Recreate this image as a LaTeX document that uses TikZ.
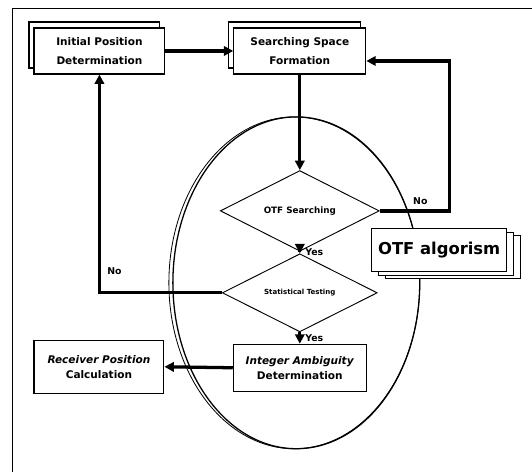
\documentclass[tikz,border=0pt]{standalone}
\usepackage{fontspec}
\setsansfont{DejaVu Sans}
\usetikzlibrary{arrows.meta,shapes.geometric,shadows}
\tikzstyle{box}=[draw,fill=white,line width=1pt,align=center,inner sep=0pt,font=\sffamily\bfseries\fontsize{9}{16}\selectfont]
\tikzstyle{dec}=[diamond,draw,fill=white,line width=0.8pt,inner sep=0pt,font=\sffamily\bfseries]
\tikzstyle{flow}=[line width=2.8pt,-{Triangle[length=8pt,width=8pt]}]
\tikzstyle{lab}=[font=\sffamily\bfseries\fontsize{8}{9}\selectfont]

\begin{document}
\begin{tikzpicture}[x=0.03cm,y=-0.03cm]
\fill[white] (0,0) rectangle (532,472);
\draw[line width=0.6pt] (12,472) -- (12,8) -- (532,8);
% the OTF ring
\draw[line width=0.7pt] (294.5,283) ellipse [x radius=3.765cm, y radius=4.98cm];
\draw[line width=1.1pt] (296.5,283) ellipse [x radius=3.705cm, y radius=4.98cm];
\node[box,minimum width=3.93cm,minimum height=1.38cm,copy shadow={shadow xshift=-0.15cm,shadow yshift=0.18cm}] (I) at (99.5,51) {Initial Position\\Determination};
\node[box,minimum width=3.96cm,minimum height=1.38cm,copy shadow={shadow xshift=-0.15cm,shadow yshift=0.18cm}] (S) at (300,51) {Searching Space\\Formation};
\node[dec,minimum width=4.77cm,minimum height=1.98cm,font=\sffamily\bfseries\fontsize{7.5}{9}\selectfont] (O) at (300,211) {OTF Searching};
\node[dec,minimum width=4.65cm,minimum height=1.98cm,font=\sffamily\bfseries\fontsize{6}{7}\selectfont] (T) at (300,293) {Statistical Testing};
\node[box,minimum width=3.99cm,minimum height=1.41cm,font=\sffamily\bfseries\fontsize{9}{13}\selectfont] (A) at (300,368) {\textit{Integer Ambiguity}\\Determination};
\node[box,minimum width=3.9cm,minimum height=1.59cm,font=\sffamily\bfseries\fontsize{9}{13}\selectfont] (R) at (99,367) {\textit{Receiver Position}\\Calculation};
\node[box,minimum width=4.05cm,minimum height=1.29cm,double copy shadow={shadow xshift=0.21cm,shadow yshift=-0.1cm},font=\sffamily\bfseries\fontsize{14}{16}\selectfont] (G) at (439.5,250.5) {OTF algorism};
\coordinate (K) at (450,61);
\path[flow]
(I) edge (S)
(S) edge (O)
(O) edge node[lab,right] {Yes} (T)
(T) edge node[lab,right] {Yes} (A)
(A.west) edge (R.east);
\draw[flow] (T.west) -| node[lab,pos=0.55,right=2pt] {No} (I.south);
\draw[flow] (O.east) -| node[lab,pos=0.29,above=1pt] {No} (K) -- (K -| S.east);
\end{tikzpicture}
\end{document}
